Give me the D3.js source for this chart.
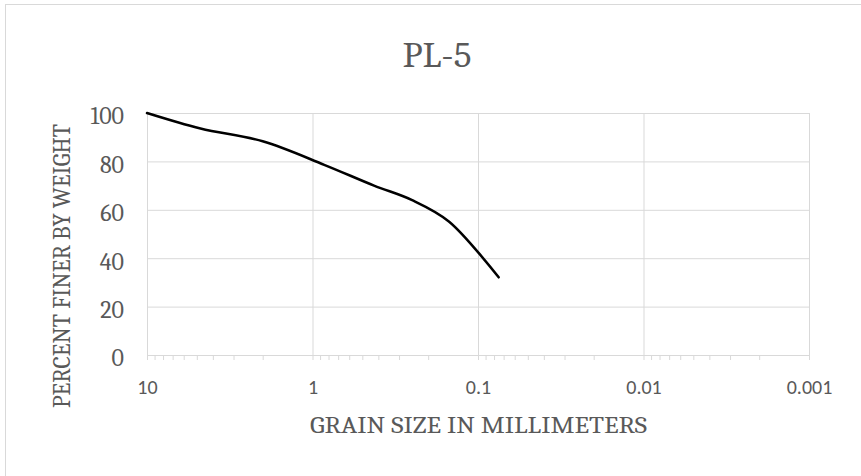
<!DOCTYPE html>
<html><head><meta charset="utf-8">
<script src="https://cdn.jsdelivr.net/npm/d3@7"></script>
<style>html,body{margin:0;padding:0;background:#fff;}svg{display:block;}</style>
</head><body>
<svg id="chart" width="861" height="476"></svg>
<script>
// ---- data ----
const grainSizes = [10, 4.75, 2.0, 0.85, 0.425, 0.25, 0.15, 0.075];
const percentFiner = [100, 93.6, 88.3, 78.6, 70.0, 64.0, 55.2, 32.1];
const xMajorTicks = [10, 1, 0.1, 0.01, 0.001];
const xTickLabels = ["10", "1", "0.1", "0.01", "0.001"];
const yTicks = [0, 20, 40, 60, 80, 100];
const titleText = "PL-5";
const xTitle = "GRAIN SIZE IN MILLIMETERS";
const yTitle = "PERCENT FINER BY WEIGHT";

const svg = d3.select("#chart");
const pLeft = 147, pRight = 809, pTop = 113, pBottom = 355;
const textColor = "#595959", gridColor = "#d9d9d9";
const serif = "Cambria, 'Liberation Serif', serif";
const sans = "Calibri, Lato, sans-serif";

// chart border
svg.append("rect").attr("x", 5.5).attr("y", 4.5).attr("width", 900).attr("height", 500)
  .attr("fill", "none").attr("stroke", gridColor);

const x = d3.scaleLog().domain([10, 0.001]).range([pLeft, pRight]);
const y = d3.scaleLinear().domain([0, 100]).range([pBottom, pTop]);

// horizontal gridlines
svg.append("g").attr("transform", `translate(${pLeft},0)`)
  .call(d3.axisLeft(y).tickValues(yTicks).tickSize(-(pRight - pLeft)).tickFormat(""))
  .call(g => g.select(".domain").remove())
  .call(g => g.selectAll("line").attr("stroke", gridColor));

// vertical gridlines at decades
svg.append("g").attr("transform", `translate(0,${pBottom})`)
  .call(d3.axisBottom(x).tickValues(xMajorTicks).tickSize(-(pBottom - pTop)).tickFormat(""))
  .call(g => g.select(".domain").remove())
  .call(g => g.selectAll("line").attr("stroke", gridColor));

// minor ticks
const minor = [];
[10, 1, 0.1, 0.01].forEach(d => { for (let k = 2; k <= 9; k++) minor.push(d * k / 10); });
svg.append("g").attr("transform", `translate(0,${pBottom})`)
  .call(d3.axisBottom(x).tickValues(minor.concat(xMajorTicks)).tickSize(5).tickSizeOuter(0).tickFormat(""))
  .call(g => g.select(".domain").attr("stroke", gridColor))
  .call(g => g.selectAll("line").attr("stroke", gridColor));

// x tick labels
svg.append("g").attr("transform", `translate(0,${pBottom})`)
  .call(d3.axisBottom(x).tickValues(xMajorTicks).tickSize(0).tickPadding(25)
    .tickFormat((d, i) => xTickLabels[i]))
  .call(g => g.select(".domain").remove())
  .call(g => g.selectAll("text").attr("fill", textColor).style("font-family", sans).style("font-size", "20px"));

// y tick labels
svg.append("g").attr("transform", `translate(${pLeft},0)`)
  .call(d3.axisLeft(y).tickValues(yTicks).tickSize(0).tickPadding(23))
  .call(g => g.select(".domain").remove())
  .call(g => g.selectAll("text").attr("fill", textColor).attr("dy", "0.45em")
    .style("font-family", serif).style("font-size", "24px"));

// line
const data = grainSizes.map((d, i) => ({ s: d, p: percentFiner[i] }));
svg.append("path").datum(data)
  .attr("fill", "none").attr("stroke", "#000").attr("stroke-width", 2.5)
  .attr("stroke-linecap", "round")
  .attr("d", d3.line().x(d => x(d.s)).y(d => y(d.p)).curve(d3.curveCatmullRom.alpha(0.5)));

// titles
svg.append("text").attr("x", 437).attr("y", 67).attr("text-anchor", "middle")
  .attr("fill", textColor).style("font-family", serif).style("font-size", "36px")
  .attr("textLength", 69).attr("lengthAdjust", "spacingAndGlyphs").text(titleText);
svg.append("text").attr("x", 478.5).attr("y", 433).attr("text-anchor", "middle")
  .attr("fill", textColor).style("font-family", serif).style("font-size", "23px")
  .attr("textLength", 337).attr("lengthAdjust", "spacingAndGlyphs").text(xTitle);
svg.append("text").attr("transform", "translate(70,266) rotate(-90)").attr("text-anchor", "middle")
  .attr("fill", textColor).style("font-family", serif).style("font-size", "25px")
  .attr("textLength", 284).attr("lengthAdjust", "spacingAndGlyphs").text(yTitle);
</script>
</body></html>
